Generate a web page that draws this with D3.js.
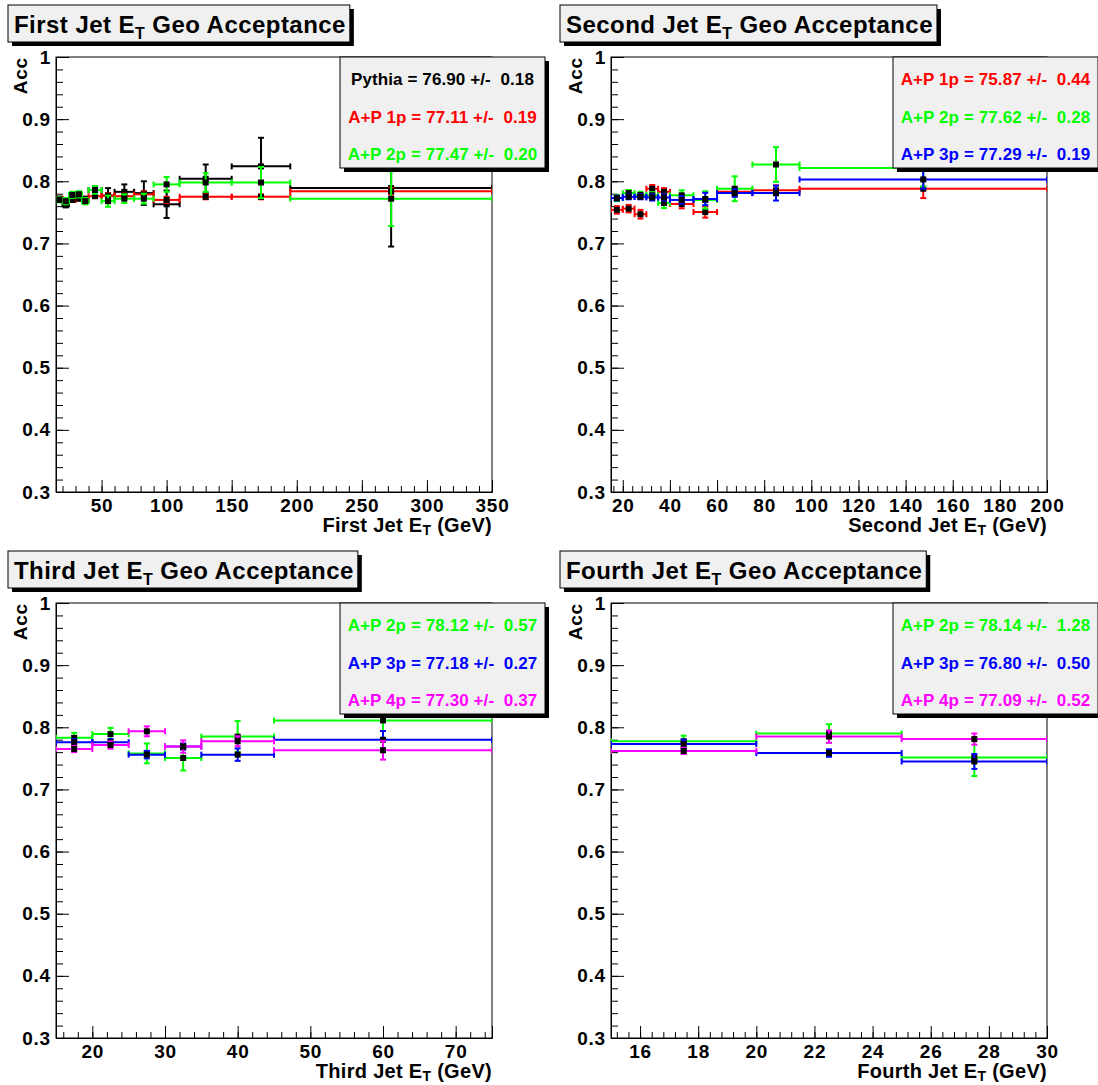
<!DOCTYPE html>
<html><head><meta charset="utf-8">
<script src="https://cdn.jsdelivr.net/npm/d3@7"></script>
<style>
body{margin:0;background:#fff}
svg{display:block}
text{font-family:"Liberation Sans",Arial,Helvetica,sans-serif;font-weight:bold}
</style>
</head><body>
<svg id="c" width="1098" height="1085"></svg>
<script>
// ---------------- DATA ----------------
// Panel 1: First jet ET
const p1Edges = [15,20,25,30,35,40,50,60,75,90,110,150,195,350];
const p1Pythia    = [0.771,0.763,0.776,0.777,0.770,0.786,0.777,0.783,0.781,0.763,0.804,0.824,0.789];
const p1PythiaErr = [0.004,0.005,0.005,0.005,0.004,0.006,0.012,0.012,0.019,0.022,0.023,0.046,0.094];
const p1AP1    = [0.772,0.770,0.770,0.772,0.772,0.776,0.777,0.776,0.779,0.770,0.775,0.775,0.784];
const p1AP1Err = [0.003,0.003,0.003,0.003,0.003,0.003,0.004,0.004,0.005,0.005,0.004,0.004,0.005];
const p1AP2    = [0.770,0.768,0.778,0.779,0.768,0.786,0.768,0.772,0.772,0.795,0.798,0.798,0.772];
const p1AP2Err = [0.004,0.005,0.005,0.005,0.005,0.006,0.009,0.007,0.008,0.012,0.015,0.025,0.044];
const p1Legend = ["Pythia = 76.90 +/-  0.18","A+P 1p = 77.11 +/-  0.19","A+P 2p = 77.47 +/-  0.20"];
const p1XTicks = [50,100,150,200,250,300,350];

// Panel 2: Second jet ET
const p2Edges = [15,20,25,30,35,40,50,60,75,95,200];
const p2AP1    = [0.754,0.756,0.747,0.788,0.783,0.7635,0.7505,0.783,0.7855,0.788];
const p2AP1Err = [0.006,0.006,0.007,0.006,0.006,0.007,0.009,0.005,0.008,0.015];
const p2AP2    = [0.773,0.781,0.778,0.7775,0.765,0.7775,0.770,0.788,0.827,0.8215];
const p2AP2Err = [0.005,0.005,0.005,0.005,0.008,0.008,0.014,0.020,0.028,0.030];
const p2AP3    = [0.773,0.775,0.775,0.774,0.774,0.770,0.7715,0.781,0.781,0.803];
const p2AP3Err = [0.004,0.004,0.004,0.005,0.005,0.006,0.010,0.006,0.012,0.015];
const p2Legend = ["A+P 1p = 75.87 +/-  0.44","A+P 2p = 77.62 +/-  0.28","A+P 3p = 77.29 +/-  0.19"];
const p2XTicks = [20,40,60,80,100,120,140,160,180,200];

// Panel 3: Third jet ET
const p3Edges = [15,20,25,30,35,45,75];
const p3AP2    = [0.783,0.789,0.758,0.7505,0.785,0.811];
const p3AP2Err = [0.008,0.010,0.016,0.020,0.025,0.030];
const p3AP3    = [0.776,0.776,0.756,0.769,0.756,0.780];
const p3AP3Err = [0.005,0.005,0.006,0.005,0.010,0.014];
const p3AP4    = [0.765,0.7715,0.7935,0.769,0.7775,0.763];
const p3AP4Err = [0.005,0.006,0.008,0.010,0.008,0.015];
const p3Legend = ["A+P 2p = 78.12 +/-  0.57","A+P 3p = 77.18 +/-  0.27","A+P 4p = 77.30 +/-  0.37"];
const p3XTicks = [20,30,40,50,60,70];

// Panel 4: Fourth jet ET
const p4Edges = [15,20,25,30];
const p4AP2    = [0.7775,0.790,0.7515];
const p4AP2Err = [0.009,0.015,0.030];
const p4AP3    = [0.773,0.7585,0.745];
const p4AP3Err = [0.007,0.006,0.012];
const p4AP4    = [0.762,0.785,0.781];
const p4AP4Err = [0.005,0.010,0.009];
const p4Legend = ["A+P 2p = 78.14 +/-  1.28","A+P 3p = 76.80 +/-  0.50","A+P 4p = 77.09 +/-  0.52"];
const p4XTicks = [16,18,20,22,24,26,28,30];

const yTicks = [0.3,0.4,0.5,0.6,0.7,0.8,0.9,1];
const titles = ["First Jet ", "Second Jet ", "Third Jet ", "Fourth Jet "];

// ---------------- DRAW ----------------
const svg = d3.select("#c");
const COL = {black:"#000000", red:"#ff0000", green:"#00ff00", blue:"#0000ff", magenta:"#ff00ff"};
const FONT = "Liberation Sans, Arial, sans-serif";

function panel(cfg){
  const ox = cfg.ox, oy = cfg.oy;
  const L = ox+56, T = oy+57, W = 436, H = 435;
  const g = svg.append("g");
  const x = d3.scaleLinear().domain([cfg.edges[0], cfg.edges[cfg.edges.length-1]]).range([L, L+W]);
  const y = d3.scaleLinear().domain([0.3, 1]).range([T+H, T]);

  // frame
  g.append("rect").attr("x",L).attr("y",T).attr("width",W).attr("height",H)
    .attr("fill","#fff").attr("stroke","#000").attr("stroke-width",1);

  // minor y ticks
  const yMinor = d3.range(0.3, 1.0001, 0.02).map(v=>+v.toFixed(2));
  g.append("g").attr("transform",`translate(${L},0)`)
    .call(d3.axisLeft(y).tickValues(yMinor).tickSize(-7).tickFormat(""))
    .call(s=>s.select(".domain").remove());
  // major y ticks
  const ya = g.append("g").attr("transform",`translate(${L},0)`)
    .call(d3.axisLeft(y).tickValues(yTicks).tickSize(-13).tickPadding(5)
      .tickFormat(d=> d===1 ? "1" : d3.format(".1f")(d)));
  ya.selectAll("text").attr("font-size",19).attr("letter-spacing",0.8).attr("font-family",FONT).attr("font-weight","bold").attr("fill","#000");
  ya.select(".domain").attr("stroke","#000");

  // minor x ticks
  g.append("g").attr("transform",`translate(0,${T+H})`)
    .call(d3.axisBottom(x).tickValues(cfg.xMinor).tickSize(-6).tickFormat(""))
    .call(s=>s.select(".domain").remove());
  const xa = g.append("g").attr("transform",`translate(0,${T+H})`)
    .call(d3.axisBottom(x).tickValues(cfg.xTicks).tickSize(-12).tickPadding(7).tickFormat(d3.format("d")));
  xa.selectAll("text").attr("font-size",19).attr("letter-spacing",0.8).attr("font-family",FONT).attr("font-weight","bold").attr("fill","#000");

  // axis titles
  const xt = g.append("text").attr("x",L+W).attr("y",oy+532).attr("text-anchor","end").attr("font-size",20).attr("letter-spacing",0.3);
  xt.append("tspan").text(cfg.title + "E");
  xt.append("tspan").attr("font-size",14).attr("dy",3).text("T");
  xt.append("tspan").attr("dy",-3).text(" (GeV)");
  g.append("text").attr("transform",`translate(${ox+27},${T}) rotate(-90)`)
    .attr("text-anchor","end").attr("font-size",19).attr("letter-spacing",0.8).text("Acc");

  // data
  const clipId = "clip"+cfg.id;
  svg.append("clipPath").attr("id",clipId).append("rect").attr("x",L).attr("y",T).attr("width",W).attr("height",H);
  const dg = g.append("g").attr("clip-path",`url(#${clipId})`);
  cfg.series.forEach(s=>{
    const col = COL[s.color];
    const sg = dg.append("g").attr("stroke",col).attr("stroke-width",2).attr("fill","none");
    s.values.forEach((v,i)=>{
      const x0 = x(cfg.edges[i]), x1 = x(cfg.edges[i+1]);
      const xc = x((cfg.edges[i]+cfg.edges[i+1])/2);
      const yv = y(v), ylo = y(v - s.err[i]), yhi = y(v + s.err[i]);
      sg.append("line").attr("x1",x0).attr("x2",x1).attr("y1",yv).attr("y2",yv);
      sg.append("line").attr("x1",x0).attr("x2",x0).attr("y1",yv-3).attr("y2",yv+3);
      sg.append("line").attr("x1",x1).attr("x2",x1).attr("y1",yv-3).attr("y2",yv+3);
      sg.append("line").attr("x1",xc).attr("x2",xc).attr("y1",ylo).attr("y2",yhi);
      sg.append("line").attr("x1",xc-3).attr("x2",xc+3).attr("y1",ylo).attr("y2",ylo);
      sg.append("line").attr("x1",xc-3).attr("x2",xc+3).attr("y1",yhi).attr("y2",yhi);
    });
    dg.append("g").selectAll("rect").data(s.values).join("rect")
      .attr("x",(v,i)=>x((cfg.edges[i]+cfg.edges[i+1])/2)-3)
      .attr("y",v=>y(v)-3).attr("width",6).attr("height",6).attr("fill","#000");
  });

  // title box
  const bx = cfg.bx;
  const tg = svg.append("g");
  const tt = tg.append("text").attr("x",bx+6).attr("y",oy+33).attr("font-size",24).attr("letter-spacing",0.45);
  tt.append("tspan").text(cfg.title + "E");
  tt.append("tspan").attr("font-size",16).attr("dy",6).text("T");
  tt.append("tspan").attr("dy",-6).text(" Geo Acceptance");
  const bb = tt.node().getBBox();
  const bw = bb.width + 10;
  tg.insert("rect","text").attr("x",bx+4).attr("y",oy+9).attr("width",bw).attr("height",37).attr("fill","#000");
  tg.insert("rect","text").attr("x",bx).attr("y",oy+5).attr("width",bw).attr("height",37)
    .attr("fill","#f0f0f0").attr("stroke","#000").attr("stroke-width",1);

  // legend
  const lx = cfg.lx, ly = T, lw = 205, lh = 111;
  svg.append("rect").attr("x",lx+4).attr("y",ly+4).attr("width",lw).attr("height",lh).attr("fill","#000");
  svg.append("rect").attr("x",lx).attr("y",ly).attr("width",lw).attr("height",lh)
    .attr("fill","#f0f0f0").attr("stroke","#000").attr("stroke-width",1);
  cfg.series.forEach((s,i)=>{
    svg.append("text").attr("x",lx+lw/2).attr("y",ly+28+i*37.5).attr("text-anchor","middle")
      .attr("font-size",17).attr("letter-spacing",0.1).attr("fill",COL[s.color]).style("white-space","pre")
      .text(cfg.legend[i]);
  });
}

panel({id:1, ox:0, oy:0, bx:8, lx:340, title:titles[0], edges:p1Edges, xTicks:p1XTicks,
  xMinor:d3.range(20,351,10), legend:p1Legend,
  series:[{color:"black",values:p1Pythia,err:p1PythiaErr},{color:"red",values:p1AP1,err:p1AP1Err},{color:"green",values:p1AP2,err:p1AP2Err}]});
panel({id:2, ox:555, oy:0, bx:560, lx:893, title:titles[1], edges:p2Edges, xTicks:p2XTicks,
  xMinor:d3.range(16,201,4), legend:p2Legend,
  series:[{color:"red",values:p2AP1,err:p2AP1Err},{color:"green",values:p2AP2,err:p2AP2Err},{color:"blue",values:p2AP3,err:p2AP3Err}]});
panel({id:3, ox:0, oy:546, bx:8, lx:340, title:titles[2], edges:p3Edges, xTicks:p3XTicks,
  xMinor:d3.range(16,75,2), legend:p3Legend,
  series:[{color:"green",values:p3AP2,err:p3AP2Err},{color:"blue",values:p3AP3,err:p3AP3Err},{color:"magenta",values:p3AP4,err:p3AP4Err}]});
panel({id:4, ox:555, oy:546, bx:560, lx:893, title:titles[3], edges:p4Edges, xTicks:p4XTicks,
  xMinor:d3.range(0,38).map(i=>+(15.2+i*0.4).toFixed(1)), legend:p4Legend,
  series:[{color:"green",values:p4AP2,err:p4AP2Err},{color:"blue",values:p4AP3,err:p4AP3Err},{color:"magenta",values:p4AP4,err:p4AP4Err}]});
</script>
</body></html>
